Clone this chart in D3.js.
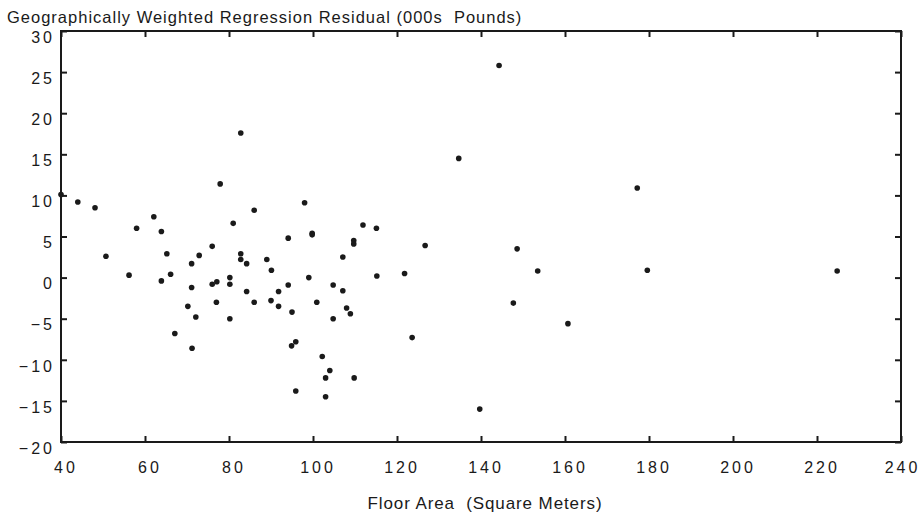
<!DOCTYPE html>
<html>
<head>
<meta charset="utf-8">
<script src="https://cdn.jsdelivr.net/npm/d3@7"></script>
<style>
  body { margin: 0; background: #fff; }
  text { font-family: "Liberation Sans", Arial, sans-serif; fill: #1a1a1a; }
</style>
</head>
<body>
<div id="chart"></div>
<script>
const w = 922;
const h = 512;

// floor area (sq m) and GWR residual (000s pounds)
const floorArea = [40.0, 44.0, 48.1, 50.7, 56.2, 58.0, 62.1, 63.9, 63.9, 65.2,
    66.1, 71.1, 71.1, 72.9, 76.0, 76.0, 77.1, 77.9, 77.0, 70.2,
    72.1, 80.2, 80.2, 80.2, 81.0, 82.8, 82.8, 82.8, 84.2, 84.2,
    86.0, 86.0, 89.0, 90.1, 90.0, 91.8, 91.8, 94.1, 94.1, 95.0,
    98.0, 99.0, 99.8, 99.8, 100.9, 67.1, 71.2, 94.9, 95.9, 95.9,
    104.8, 104.8, 107.1, 107.1, 108.0, 108.9, 109.7, 109.7, 111.9, 115.1,
    115.2, 121.8, 126.7, 134.7, 148.6, 153.5, 147.7, 102.2, 104.0, 103.0,
    103.0, 109.8, 123.6, 139.7, 160.7, 177.2, 179.6, 224.8, 144.3];
const residual = [10.1, 9.2, 8.5, 2.6, 0.3, 6.0, 7.4, 5.6, -0.4, 2.9,
    0.4, 1.7, -1.2, 2.7, 3.8, -0.8, -0.5, 11.4, -3.0, -3.5,
    -4.8, 0.0, -0.8, -5.0, 6.6, 17.6, 2.9, 2.2, 1.7, -1.7,
    8.2, -3.0, 2.2, 0.9, -2.8, -1.7, -3.5, 4.8, -0.9, -4.2,
    9.1, 0.0, 5.4, 5.2, -3.0, -6.8, -8.6, -8.3, -7.8, -13.8,
    -0.9, -5.0, 2.5, -1.6, -3.7, -4.4, 4.5, 4.1, 6.4, 6.0,
    0.2, 0.5, 3.9, 14.5, 3.5, 0.8, -3.1, -9.6, -11.3, -12.2,
    -14.5, -12.2, -7.3, -16.0, -5.6, 10.9, 0.9, 0.8, 25.8];

const xTicks = [40, 60, 80, 100, 120, 140, 160, 180, 200, 220, 240];
const yTicks = [30, 25, 20, 15, 10, 5, 0, -5, -10, -15, -20];

const yTitle = "Geographically Weighted Regression Residual (000s  Pounds)";
const xTitle = "Floor Area  (Square Meters)";

const plotLeft = 61, plotRight = 901, plotTop = 31, plotBottom = 442;

const x = d3.scaleLinear().domain([40, 240]).range([plotLeft, plotRight]);
const y = d3.scaleLinear().domain([-20, 30]).range([plotBottom, plotTop]);

const svg = d3.select("#chart")
    .append("svg")
    .attr("width", w)
    .attr("height", h);

// frame
svg.append("rect")
    .attr("x", plotLeft)
    .attr("y", plotTop)
    .attr("width", plotRight - plotLeft)
    .attr("height", plotBottom - plotTop)
    .attr("fill", "none")
    .attr("stroke", "#1a1a1a")
    .attr("stroke-width", 2);

// inward ticks on all four sides, labels only left and bottom
const bottomAxis = d3.axisBottom(x).tickValues(xTicks).tickSize(-6).tickPadding(20).tickFormat(d3.format("d"));
const topAxis = d3.axisTop(x).tickValues(xTicks).tickSize(-6).tickFormat("");
const leftAxis = d3.axisLeft(y).tickValues(yTicks).tickSize(-6).tickPadding(6).tickFormat(d3.format("d"));
const rightAxis = d3.axisRight(y).tickValues(yTicks).tickSize(-6).tickFormat("");

function styleAxis(g) {
    g.select(".domain").remove();
    g.selectAll(".tick line").attr("stroke", "#1a1a1a").attr("stroke-width", 2);
    g.selectAll(".tick text")
        .attr("fill", "#1a1a1a")
        .style("font-size", "16px")
        .style("letter-spacing", "3px");
}

svg.append("g").attr("transform", "translate(0," + plotBottom + ")").call(bottomAxis).call(styleAxis)
    .selectAll(".tick text")
    .attr("dx", function(d) { return d === 240 ? "1px" : "4.5px"; }); // last label would run off the page
svg.append("g").attr("transform", "translate(0," + plotTop + ")").call(topAxis).call(styleAxis);
svg.append("g").attr("transform", "translate(" + plotLeft + ",0)").call(leftAxis).call(styleAxis)
    .selectAll(".tick text").attr("dy", "0.7em");
svg.append("g").attr("transform", "translate(" + plotRight + ",0)").call(rightAxis).call(styleAxis);

// points
svg.selectAll("circle.pt")
    .data(floorArea)
    .enter()
    .append("circle")
    .attr("class", "pt")
    .attr("cx", function(d) { return x(d); })
    .attr("cy", function(d, i) { return y(residual[i]); })
    .attr("r", 2.8)
    .attr("fill", "#1a1a1a");

// titles
svg.append("text")
    .attr("x", 7)
    .attr("y", 23)
    .style("font-size", "16.5px")
    .style("letter-spacing", "1px")
    .style("white-space", "pre")
    .text(yTitle);

svg.append("text")
    .attr("x", 485)
    .attr("y", 509)
    .attr("text-anchor", "middle")
    .style("font-size", "17px")
    .style("letter-spacing", "0.9px")
    .style("white-space", "pre")
    .text(xTitle);
</script>
</body>
</html>
